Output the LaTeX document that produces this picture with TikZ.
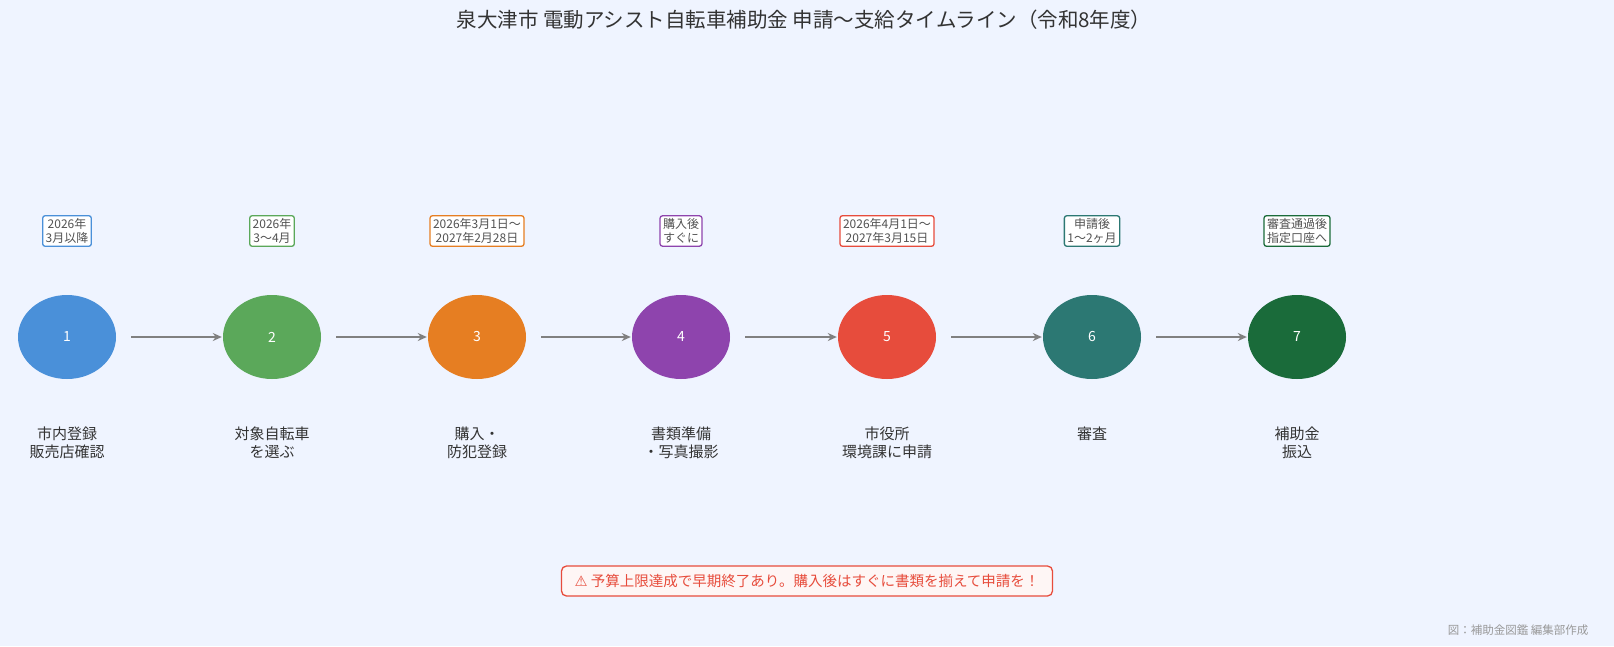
\documentclass[tikz,border=0pt]{standalone}
\usepackage{fontspec}
\setmainfont{Noto Sans CJK JP}
\newfontfamily\symf{DejaVu Sans}
\usetikzlibrary{shapes.geometric,arrows.meta}
\definecolor{bg}{HTML}{EFF4FF}
\definecolor{c1}{HTML}{4A90D9}
\definecolor{c2}{HTML}{5BA85A}
\definecolor{c3}{HTML}{E67E22}
\definecolor{c4}{HTML}{8E44AD}
\definecolor{c5}{HTML}{E74C3C}
\definecolor{c6}{HTML}{2C7873}
\definecolor{c7}{HTML}{1A6B3A}
\definecolor{txt}{HTML}{333333}
\tikzset{
 stepnode/.style={ellipse,minimum width=98pt,minimum height=84pt,inner sep=0pt,text=white,font=\fontsize{14}{14}\selectfont},
 datebox/.style={draw,line width=1.3pt,rounded corners=2.5pt,fill=white,text=txt!85,align=center,inner sep=3pt,font=\fontsize{12}{13.5}\selectfont},
 lbl/.style={text=txt,align=center,font=\fontsize{15}{18}\selectfont},
 conn/.style={draw=gray,line width=2.2pt,-{Stealth[length=9pt,width=8pt]}}
}
\begin{document}
\begin{tikzpicture}[x=1pt,y=-1pt]
\useasboundingbox (0,0) rectangle (1614,646);
\clip (0,0) rectangle (1614,646);
\fill[bg] (0,0) rectangle (1614,646);
\node[text=txt,font=\fontsize{20.5}{20.5}\selectfont] (title) at (804,20) {泉大津市 電動アシスト自転車補助金 申請〜支給タイムライン（令和8年度）};
\foreach \i/\x/\d/\l in {1/67/{2026年\\3月以降}/{市内登録\\販売店確認},
 2/272/{2026年\\3〜4月}/{対象自転車\\を選ぶ},
 3/477/{2026年3月1日〜\\2027年2月28日}/{購入・\\防犯登録},
 4/681/{購入後\\すぐに}/{書類準備\\・写真撮影},
 5/887/{2026年4月1日〜\\2027年3月15日}/{市役所\\環境課に申請},
 6/1092/{申請後\\1〜2ヶ月}/{審査},
 7/1297/{審査通過後\\指定口座へ}/{補助金\\振込}}{
 \node[stepnode,fill=c\i] (s\i) at (\x,337) {\i};
 \node[datebox,draw=c\i] (d\i) at (\x,231) {\d};
 \node[lbl,anchor=north] (l\i) at (\x,423) {\l};
}
\foreach \a/\b in {1/2,2/3,3/4,4/5,5/6,6/7}{
 \draw[conn] ([xshift=15pt]s\a.east) -- ([xshift=-1pt]s\b.west);
}
\node[draw=c5,line width=1.3pt,rounded corners=5pt,fill=c5!5,text=c5,minimum width=491pt,minimum height=30pt,font=\fontsize{14.5}{14.5}\selectfont] (warn) at (807,581) {{\symf ⚠}\ 予算上限達成で早期終了あり。購入後はすぐに書類を揃えて申請を！};
\node[anchor=east,text=gray!80,font=\fontsize{11.5}{11.5}\selectfont] (foot) at (1592,630) {図：補助金図鑑 編集部作成};
\end{tikzpicture}
\end{document}
